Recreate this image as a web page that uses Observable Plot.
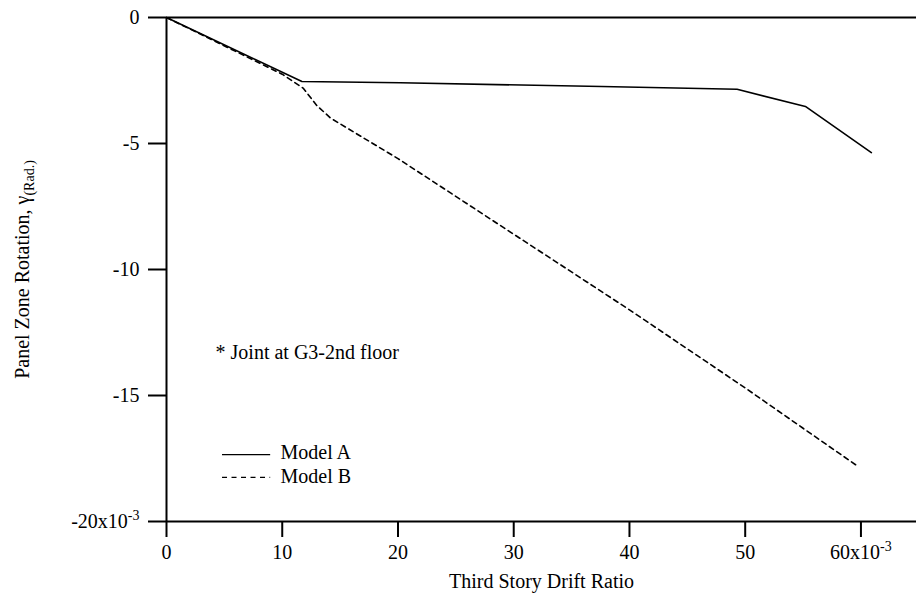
<!DOCTYPE html>
<html><head><meta charset="utf-8">
<script src="https://cdn.jsdelivr.net/npm/d3@7"></script>
<script src="https://cdn.jsdelivr.net/npm/@observablehq/plot@0.6"></script>
<style>
html,body{margin:0;padding:0;background:#fff;}
#chart svg{display:block;}
#chart svg, #chart svg text{font-family:"Liberation Serif","Times New Roman",Times,serif !important;}
</style></head><body><div id="chart"></div>
<script>
// Model A: Third story drift ratio (x10^-3) vs panel zone rotation (x10^-3 rad)
const driftA = [0, 11.7, 20.2, 37.6, 49.3, 55.2, 60.9];
const rotA   = [0, -2.54, -2.59, -2.74, -2.85, -3.53, -5.36];
// Model B
const driftB = [0, 6, 10, 11.8, 13.0, 14.2, 20, 30, 40, 50, 55, 59.7];
const rotB   = [0, -1.35, -2.25, -2.8, -3.5, -4.0, -5.6, -8.6, -11.6, -14.7, -16.3, -17.8];

const seriesNames = ["Model A", "Model B"];
const xTicks = [0, 10, 20, 30, 40, 50, 60];
const xTickLabels = ["0", "10", "20", "30", "40", "50", "60x10"];
const yTicks = [0, -5, -10, -15, -20];
const yTickLabels = ["0", "-5", "-10", "-15", "-20x10"];
const expSuffix = "-3";
const xTitle = "Third Story Drift Ratio";
const yTitle = "Panel Zone Rotation, γ";
const ySub = "(Rad.)";
const note = "* Joint at G3-2nd floor";

const dataA = driftA.map((x, i) => ({x, y: rotA[i], s: seriesNames[0]}));
const dataB = driftB.map((x, i) => ({x, y: rotB[i], s: seriesNames[1]}));

const font = "'Liberation Serif', 'Times New Roman', serif";

const chart = Plot.plot({
  width: 916,
  height: 601,
  marginTop: 17,
  marginBottom: 80,
  marginLeft: 166,
  marginRight: 0,
  style: {fontFamily: font, fontSize: "20px", background: "white", color: "black", overflow: "visible"},
  x: {domain: [0, 64.8]},
  y: {domain: [-20, 0]},
  marks: [
    Plot.ruleY([0, -20], {stroke: "black", strokeWidth: 2}),
    Plot.ruleX([0], {stroke: "black", strokeWidth: 2}),
    Plot.axisX({ticks: xTicks, tickFormat: d => xTickLabels[xTicks.indexOf(d)], tickSize: 16, tickPadding: 7, strokeWidth: 2, label: null, fontSize: 20}),
    Plot.axisY({ticks: yTicks, tickFormat: d => yTickLabels[yTicks.indexOf(d)], tickSize: 18, tickPadding: 9, strokeWidth: 2, label: null, fontSize: 20}),
    Plot.line(dataA, {x: "x", y: "y", stroke: "black", strokeWidth: 1.6}),
    Plot.line(dataB, {x: "x", y: "y", stroke: "black", strokeWidth: 1.6, strokeDasharray: "5,4"}),
    // annotation
    Plot.text([note], {x: 4.24, y: -13.29, text: d => d, textAnchor: "start", fontSize: 20}),
    // legend
    Plot.ruleY([-17.35], {x1: 4.84, x2: 9.0, stroke: "black", strokeWidth: 1.3}),
    Plot.ruleY([-18.25], {x1: 4.84, x2: 9.0, stroke: "black", strokeWidth: 1.3, strokeDasharray: "5,4.5"}),
    Plot.text([seriesNames[0]], {x: 9.85, y: -17.25, text: d => d, textAnchor: "start", fontSize: 20}),
    Plot.text([seriesNames[1]], {x: 9.85, y: -18.2, text: d => d, textAnchor: "start", fontSize: 20}),
    // axis titles
    Plot.text([xTitle], {frameAnchor: "bottom", dy: 66, text: d => d, textAnchor: "middle", fontSize: 20}),
    Plot.text([yTitle], {frameAnchor: "left", dx: -144, rotate: -90, text: d => d, textAnchor: "middle", lineAnchor: "middle", fontSize: 20})
  ]
});

document.getElementById("chart").appendChild(chart);

// superscript exponents and subscript unit
d3.select(chart).selectAll("text").each(function() {
  const t = d3.select(this);
  const s = this.textContent;
  if (s === xTickLabels[xTickLabels.length - 1] || s === yTickLabels[yTickLabels.length - 1]) {
    t.append("tspan").attr("dy", "-0.55em").attr("font-size", 14).text(expSuffix);
  } else if (s === yTitle) {
    t.append("tspan").attr("dy", "0.35em").attr("font-size", 14).text(ySub);
  }
});
</script></body></html>
